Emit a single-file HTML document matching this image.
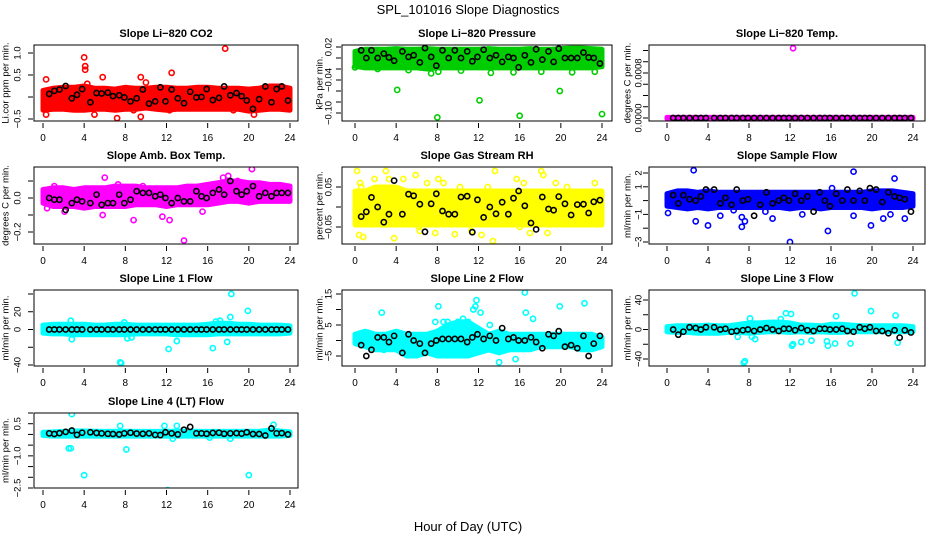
<!DOCTYPE html>
<html><head><meta charset="utf-8"><style>
html,body{margin:0;padding:0;background:#fff;}
svg{display:block;font-family:"Liberation Sans",sans-serif;}
</style></head><body>
<svg id="chart" width="936" height="540" viewBox="0 0 936 540">
<text x="468" y="14" text-anchor="middle" font-size="13">SPL_101016  Slope Diagnostics</text>
<text x="468" y="531" text-anchor="middle" font-size="13">Hour of Day (UTC)</text>
</svg>
<script>
const hours = [0,1,2,3,4,5,6,7,8,9,10,11,12,13,14,15,16,17,18,19,20,21,22,23,24];
const xTicks = [0,4,8,12,16,20,24];
const blackT = [0.6,1.1,1.6,2.2,2.8,3.3,3.8,4.6,5.2,5.7,6.3,6.8,7.4,7.9,8.5,9.1,9.7,10.3,10.9,11.4,11.9,12.5,13.1,13.7,14.3,14.9,15.4,15.9,16.5,17.1,17.6,18.2,18.8,19.3,19.8,20.4,21.0,21.6,22.2,22.7,23.2,23.8];

// Panel 1 CO2
const co2Hi = [0.15,0.2,0.22,0.22,0.25,0.2,0.2,0.18,0.22,0.2,0.2,0.22,0.22,0.2,0.2,0.22,0.22,0.2,0.2,0.2,0.18,0.2,0.25,0.25,0.2];
const co2Lo = [-0.3,-0.28,-0.28,-0.3,-0.3,-0.28,-0.28,-0.3,-0.28,-0.28,-0.25,-0.28,-0.3,-0.28,-0.28,-0.28,-0.28,-0.28,-0.28,-0.28,-0.32,-0.3,-0.28,-0.28,-0.3];
const co2OutT = [0.3,0.3,2.6,4.0,4.1,4.1,4.3,5.0,5.8,7.2,9.5,9.5,10.0,12.5,12.3,17.7,20.5,18.5,8.8];
const co2OutV = [0.4,-0.4,-0.27,0.9,0.7,0.62,0.3,-0.4,0.45,-0.48,0.45,-0.45,0.33,0.55,-0.3,1.1,-0.4,-0.3,-0.3];
const co2Black = [0.07,0.14,0.17,0.25,-0.03,0.05,0.18,-0.12,0.09,0.08,0.1,0.02,0.04,-0.01,-0.1,-0.03,0.17,-0.15,-0.1,0.22,-0.1,0.17,-0.03,-0.14,0.12,-0.01,0.0,0.18,-0.07,-0.02,0.24,0.04,0.09,0.02,-0.08,-0.27,-0.05,0.24,-0.12,0.18,0.24,-0.08];
// Panel 2 Pressure
const prHi = [0.012,0.016,0.016,0.016,0.017,0.016,0.016,0.017,0.016,0.016,0.016,0.016,0.016,0.017,0.016,0.016,0.016,0.017,0.016,0.016,0.017,0.018,0.018,0.017,0.016];
const prLo = [-0.015,-0.018,-0.018,-0.018,-0.018,-0.018,-0.018,-0.02,-0.018,-0.018,-0.018,-0.018,-0.018,-0.018,-0.018,-0.018,-0.018,-0.018,-0.018,-0.018,-0.018,-0.018,-0.018,-0.018,-0.016];
const prOutT = [0,2.2,4.1,4.7,5.2,7.4,8.0,8.1,10.3,12.1,13.2,15.4,16.0,18.1,19.9,21.1,23.3,24.0];
const prOutV = [-0.017,-0.02,-0.058,-0.016,-0.022,-0.028,-0.108,-0.025,-0.023,-0.077,-0.027,-0.026,-0.105,-0.025,-0.060,-0.026,-0.025,-0.102];
const prBlack = [0.014,0.0,0.014,0.0,0.008,0.001,-0.005,0.012,0.002,0.005,-0.008,0.018,0.002,-0.014,0.014,0.0,0.014,0.0,0.012,-0.006,0.002,0.015,0.0,0.005,-0.007,0.002,0.0,-0.017,0.005,-0.008,0.016,-0.003,0.012,-0.007,0.017,0.0,0.0,0.0,0.01,0.001,0.0,-0.01];
// Panel 3 Temp
const tHi = [0.00001,0.00001,0.00001,0.00001,0.00001,0.00001,0.00001,0.00001,0.00001,0.00001,0.00001,0.00001,0.00001,0.00001,0.00001,0.00001,0.00001,0.00001,0.00001,0.00001,0.00001,0.00001,0.00001,0.00001,0.00001];
const tLo = [-0.00001,-0.00001,-0.00001,-0.00001,-0.00001,-0.00001,-0.00001,-0.00001,-0.00001,-0.00001,-0.00001,-0.00001,-0.00001,-0.00001,-0.00001,-0.00001,-0.00001,-0.00001,-0.00001,-0.00001,-0.00001,-0.00001,-0.00001,-0.00001,-0.00001];
const tOutT = [12.3];
const tOutV = [0.00124];
const tBlack = [0,0,0,0,0,0,0,0,0,0,0,0,0,0,0,0,0,0,0,0,0,0,0,0,0,0,0,0,0,0,0,0,0,0,0,0,0,0,0,0,0,0];
// Panel 4 Amb box
const abHi = [0.05,0.06,0.06,0.05,0.06,0.06,0.06,0.07,0.07,0.07,0.06,0.06,0.06,0.06,0.07,0.07,0.08,0.09,0.1,0.1,0.09,0.09,0.08,0.08,0.07];
const abLo = [-0.03,-0.05,-0.05,-0.05,-0.06,-0.05,-0.05,-0.05,-0.05,-0.04,-0.04,-0.04,-0.05,-0.04,-0.04,-0.04,-0.04,-0.03,-0.02,-0.02,-0.03,-0.02,-0.02,-0.02,-0.02];
const abOutT = [0.4,1.1,5.8,6.0,7.3,8.8,11.6,12.3,13.7,15.5,17.5,18.0,20.3,18.9,9.7,2.1];
const abOutV = [-0.06,0.07,-0.1,0.12,0.08,-0.13,-0.11,-0.13,-0.25,-0.08,0.12,0.13,0.17,0.1,0.07,-0.08];
const abBlack = [0.0,-0.01,-0.01,-0.07,-0.03,-0.01,-0.02,-0.03,0.02,-0.04,-0.03,-0.03,0.02,-0.03,-0.01,0.04,0.03,0.03,0.01,0.02,0.0,-0.03,0.0,-0.02,-0.02,0.04,0.01,0.0,0.03,0.05,0.02,0.1,0.04,0.02,0.04,0.07,0.01,0.03,0.01,0.03,0.03,0.03];
// Panel 5 RH
const rhHi = [0.04,0.04,0.05,0.05,0.05,0.04,0.04,0.04,0.04,0.04,0.04,0.04,0.04,0.04,0.04,0.04,0.04,0.04,0.04,0.04,0.04,0.04,0.04,0.04,0.04];
const rhLo = [-0.045,-0.045,-0.045,-0.045,-0.045,-0.045,-0.045,-0.045,-0.045,-0.045,-0.045,-0.045,-0.045,-0.045,-0.045,-0.045,-0.045,-0.045,-0.045,-0.045,-0.045,-0.045,-0.045,-0.045,-0.045];
const rhOutT = [0.2,0.4,0.5,0.8,1.9,3.0,3.3,3.8,4.7,5.9,6.3,7.0,7.8,8.6,9.7,10.2,11.3,12.3,12.9,13.4,13.6,15.7,16.0,17.0,18.1,18.3,18.7,19.5,20.6,22.0,23.3,0.6,6.2,8.1,14.4,16.4];
const rhOutV = [0.09,-0.07,0.06,-0.075,0.07,0.09,0.07,-0.078,0.07,0.08,-0.06,0.06,-0.065,0.06,-0.068,0.05,-0.06,-0.07,0.05,-0.085,0.09,0.07,-0.05,-0.065,0.09,0.08,-0.065,0.06,0.05,-0.04,0.06,0.05,-0.05,0.07,-0.04,0.06];
const rhBlack = [-0.024,-0.012,0.024,0.0,-0.038,-0.018,0.066,-0.018,0.032,0.028,0.007,-0.062,0.008,0.033,-0.010,-0.018,-0.018,0.025,0.027,-0.063,0.018,-0.026,0.0,-0.017,0.012,-0.018,0.022,0.04,0.003,-0.04,-0.056,0.025,-0.005,-0.008,0.026,0.008,-0.02,0.006,0.007,-0.015,0.013,0.017];
// Panel 6 Sample flow
const sfHi = [0.5,0.7,0.7,0.6,0.7,0.6,0.6,0.6,0.6,0.6,0.6,0.6,0.6,0.6,0.6,0.6,0.6,0.6,0.6,0.6,0.7,0.7,0.7,0.6,0.5];
const sfLo = [-0.4,-0.5,-0.6,-0.5,-0.6,-0.5,-0.5,-0.5,-0.5,-0.5,-0.5,-0.5,-0.6,-0.5,-0.5,-0.6,-0.5,-0.5,-0.5,-0.5,-0.6,-0.5,-0.5,-0.5,-0.4];
const sfOutT = [0.1,2.6,2.8,4.0,5.2,7.3,7.3,7.6,10.3,12.0,13.2,15.7,16.1,18.2,18.2,19.9,21.1,21.8,22.2,23.2,9.6,6.5];
const sfOutV = [-0.9,2.2,-1.5,-1.8,-1.1,-1.2,-1.9,-1.5,-1.3,-3.0,-1.0,-2.2,0.9,2.1,-1.1,-1.8,-1.3,-1.0,1.6,-1.3,-0.8,-0.7];
const sfBlack = [0.4,-0.2,0.4,0.1,0.0,0.3,0.8,0.8,-0.2,0.2,-0.3,0.8,0.0,0.1,-1.1,-0.3,0.6,-0.2,0.0,0.2,0.0,0.5,-0.0,0.3,-0.8,0.6,0.0,-0.4,0.5,0.0,0.8,0.0,0.7,0.0,0.9,0.8,-0.1,0.6,0.3,0.2,0.1,-0.8];
// Panel 7 Line 1
const l1Hi = [5,6,6,6,6,5,5,6,6,5,5,5,5,5,5,5,6,7,7,6,6,5,5,5,4];
const l1Lo = [-4,-5,-5,-6,-6,-6,-6,-6,-6,-5,-5,-5,-5,-6,-6,-6,-6,-5,-5,-5,-5,-5,-5,-5,-4];
const l1OutT = [2.7,2.8,7.5,7.6,7.9,8.2,8.6,12.2,13.0,16.5,17.9,18.2,18.3,19.9,16.8,17.2,23.9];
const l1OutV = [10,-11,-37,-38,8,-10,-9,-22,-13,-21,-14,14,40,21,9,10,-3];
const l1Black = [0,0,0,0,0,0,0,0,0,0,0,0,0,0,0,0,0,0,0,0,0,0,0,0,0,0,0,0,0,0,0,0,0,0,0,0,0,0,0,0,0,0];
// Panel 8 Line 2
const l2Hi = [2,3,2,2,3,2,2,2,3,5,6,6,4,2,3,2,2,2,2,2,2,2,2,2,1];
const l2Lo = [-1,-2,-3,-3,-3,-5,-5,-4,-5,-5,-5,-5,-4,-3,-4,-3,-3,-3,-2,-2,-2,-2,-3,-3,-2];
const l2OutT = [2.6,7.8,8.1,8.6,9.0,9.5,10.0,10.5,11.0,11.5,11.7,11.8,12.2,13.1,14.0,15.6,16.5,16.6,17.3,19.9,22.3,2.8,5.3,6.3];
const l2OutV = [9,6,11,6,6,5,6,7,6,10,11,13,9,5,-7,-6,15.5,9,7,11,12,-3,-3,-3];
const l2Black = [-1.5,-5,-3,1,1,-0.5,1.5,-4,2,0,-1,-4,-1,0,0.5,0.5,0.5,0.5,-0.5,1,2,0.5,1.5,0,4,0.5,1,0,0,1,-0.5,-2.5,2,1.5,3,-2,-1.5,-2.5,1.5,-5,-1,1.5];
// Panel 9 Line 3
const l3Hi = [4,5,5,5,6,5,5,7,9,9,10,10,9,6,6,5,7,7,6,5,5,5,5,5,4];
const l3Lo = [-3,-4,-4,-5,-5,-5,-4,-4,-5,-4,-3,-3,-4,-3,-4,-3,-4,-4,-3,-3,-3,-3,-3,-3,-3];
const l3OutT = [7.5,7.6,8.1,8.3,8.6,11.6,12.1,12.2,12.3,13.1,14.1,15.6,15.7,16.4,16.5,17.9,18.3,19.9,22.3,22.5,6.9,11.1];
const l3OutV = [-45,-43,15,-10,-13,22,21,-22,-20,-17,-15,-16,-22,-19,18,-19,49,25,19,-18,-10,14];
const l3Black = [0,-7,-3,3,2,0,3,3,0,1,-3,-2,-1,0,-2,0,2,0,-2,1,1,-1,2,-1,-2,1,1,0,0,1,-2,-3,3,1,3,-2,-2,-5,-1,-11,-1,-4];
// Panel 10 Line 4
const l4Hi = [0.1,0.12,0.14,0.16,0.16,0.15,0.14,0.15,0.15,0.14,0.14,0.14,0.15,0.15,0.16,0.14,0.14,0.14,0.14,0.14,0.15,0.14,0.2,0.16,0.12];
const l4Lo = [-0.05,-0.08,-0.08,-0.08,-0.08,-0.08,-0.08,-0.08,-0.08,-0.08,-0.08,-0.08,-0.08,-0.08,-0.08,-0.08,-0.08,-0.08,-0.08,-0.08,-0.08,-0.08,-0.08,-0.08,-0.05];
const l4OutT = [2.8,2.5,2.7,4.0,8.1,7.5,12.1,11.8,13.0,20.0,22.4,12.6,18.2,16.2];
const l4OutV = [0.95,-0.65,-0.65,-1.9,-0.7,0.4,-2.6,0.4,0.4,-1.9,0.45,-0.2,-0.2,-0.15];
const l4Black = [0.05,0.02,0.06,0.12,0.18,-0.02,0.08,0.1,0.07,0.05,0.03,0.02,0.0,0.05,0.08,0.04,0.03,0.05,-0.02,-0.03,0.1,0.05,0.0,0.22,0.35,0.05,0.05,0.03,0.07,0.08,0.03,0.05,0.06,0.04,0.1,0.02,0.02,-0.05,0.28,0.05,0.06,0.0];

const cols = [{l:34,r:298,x0:43,x24:290,yl:6,tl:18},{l:342,r:612,x0:355,x24:602,yl:320,tl:329},{l:649,r:925,x0:667,x24:913,yl:628,tl:639}];
const rows = [{t:45,b:121},{t:167,b:244},{t:290,b:366},{t:413,b:488}];

const panels = [
 {name:'co2',title:'Slope Li\u2212820 CO2',yl:'Li.cor ppm per min.',c:0,r:0,col:'#ff0000',ref:[1.0,53,-0.5,119],ticks:[1.0,0.5,0,-0.5],labs:['1.0','0.5','','\u22120.5'],hi:co2Hi,lo:co2Lo,ot:co2OutT,ov:co2OutV,bk:co2Black},
 {name:'pressure',title:'Slope Li\u2212820 Pressure',yl:'kPa per min.',c:1,r:0,col:'#00cd00',ref:[0.02,47,-0.10,113],ticks:[0.02,0,-0.02,-0.04,-0.06,-0.08,-0.10],labs:['0.02','','','\u22120.04','','','\u22120.10'],hi:prHi,lo:prLo,ot:prOutT,ov:prOutV,bk:prBlack},
 {name:'temp',title:'Slope Li\u2212820 Temp.',yl:'degrees C per min.',c:2,r:0,col:'#ff00ff',ref:[0,118,0.0008,73],ticks:[0,0.0002,0.0004,0.0006,0.0008,0.001,0.0012],labs:['0.0000','','','','0.0008','',''],hi:tHi,lo:tLo,ot:tOutT,ov:tOutV,bk:tBlack},
 {name:'amb-box-temp',title:'Slope Amb. Box Temp.',yl:'degrees C per min.',c:0,r:1,col:'#ff00ff',ref:[0,198,-0.2,232],ticks:[0.1,0,-0.1,-0.2],labs:['','0.0','','\u22120.2'],hi:abHi,lo:abLo,ot:abOutT,ov:abOutV,bk:abBlack},
 {name:'gas-rh',title:'Slope Gas Stream RH',yl:'percent per min.',c:1,r:1,col:'#ffff00',ref:[0.05,187,-0.05,227],ticks:[0.05,0,-0.05],labs:['0.05','','\u22120.05'],hi:rhHi,lo:rhLo,ot:rhOutT,ov:rhOutV,bk:rhBlack},
 {name:'sample-flow',title:'Slope Sample Flow',yl:'ml/min per min.',c:2,r:1,col:'#0000ff',ref:[2,173,-3,242],ticks:[2,1,0,-1,-2,-3],labs:['2','1','','\u22121','','\u22123'],hi:sfHi,lo:sfLo,ot:sfOutT,ov:sfOutV,bk:sfBlack},
 {name:'line1-flow',title:'Slope Line 1 Flow',yl:'ml/min per min.',c:0,r:2,col:'#00ffff',ref:[40,294,-40,365],ticks:[40,20,0,-20,-40],labs:['','20','0','','\u221240'],hi:l1Hi,lo:l1Lo,ot:l1OutT,ov:l1OutV,bk:l1Black},
 {name:'line2-flow',title:'Slope Line 2 Flow',yl:'ml/min per min.',c:1,r:2,col:'#00ffff',ref:[15,294,-5,356],ticks:[15,10,5,0,-5],labs:['15','','5','','\u22125'],hi:l2Hi,lo:l2Lo,ot:l2OutT,ov:l2OutV,bk:l2Black},
 {name:'line3-flow',title:'Slope Line 3 Flow',yl:'ml/min per min.',c:2,r:2,col:'#00ffff',ref:[40,300,-40,359],ticks:[40,20,0,-20,-40],labs:['40','','0','','\u221240'],hi:l3Hi,lo:l3Lo,ot:l3OutT,ov:l3OutV,bk:l3Black},
 {name:'line4-flow',title:'Slope Line 4 (LT) Flow',yl:'ml/min per min.',c:0,r:3,col:'#00ffff',ref:[1.0,413,-2.5,488],ticks:[1.0,0.5,0,-0.5,-1.0,-1.5,-2.0,-2.5],labs:['','0.5','','','\u22121.0','','','\u22122.5'],hi:l4Hi,lo:l4Lo,ot:l4OutT,ov:l4OutV,bk:l4Black}
];

const NS='http://www.w3.org/2000/svg';
const svg=document.getElementById('chart');
function mk(tag,attrs,parent){const e=document.createElementNS(NS,tag);for(const k in attrs)e.setAttribute(k,attrs[k]);parent.appendChild(e);return e;}

panels.forEach(p=>{
  const C=cols[p.c],R=rows[p.r];
  const g=mk('g',{},svg);
  
  
  const xs=h=>C.x0+(C.x24-C.x0)*h/24;
  const ys=v=>p.ref[1]+(v-p.ref[0])*(p.ref[3]-p.ref[1])/(p.ref[2]-p.ref[0]);
  const clip='clip-'+p.name;
  const cp=mk('clipPath',{id:clip},g);
  mk('rect',{x:C.l,y:R.t,width:C.r-C.l,height:R.b-R.t},cp);
  const data=mk('g',{'clip-path':'url(#'+clip+')'},g);
  let d='';
  hours.forEach((h,i)=>{d+=(i?'L':'M')+xs(h).toFixed(1)+','+ys(p.hi[i]).toFixed(1);});
  for(let i=hours.length-1;i>=0;i--)d+='L'+xs(hours[i]).toFixed(1)+','+ys(p.lo[i]).toFixed(1);
  const band=mk('path',{d:d+'Z',fill:p.col,stroke:p.col,'stroke-width':5,'stroke-linejoin':'round'},data);
  
  
  p.ot.forEach((t,i)=>{
    const c=mk('circle',{cx:xs(t),cy:ys(p.ov[i]),r:2.6,fill:'none',stroke:p.col,'stroke-width':1.6},data);
    
    
  });
  blackT.forEach((t,i)=>{
    const c=mk('circle',{cx:xs(t),cy:ys(p.bk[i]),r:2.6,fill:'none',stroke:'#000','stroke-width':1.6},data);
    
    
  });
  const box=mk('rect',{x:C.l,y:R.t,width:C.r-C.l,height:R.b-R.t,fill:'none',stroke:'#000','stroke-width':1},g);
  
  
  const tt=mk('text',{x:(C.l+C.r)/2,y:R.t-8,'text-anchor':'middle','font-size':11,'font-weight':'bold'},g);
  tt.textContent=p.title;
  
  
  xTicks.forEach(h=>{
    mk('line',{x1:xs(h),x2:xs(h),y1:R.b+2,y2:R.b+7,stroke:'#000'},g);
    const tl=mk('text',{x:xs(h),y:R.b+20,'text-anchor':'middle','font-size':10},g);
    tl.textContent=h;
    
    
  });
  p.ticks.forEach((v,i)=>{
    mk('line',{x1:C.l-6,x2:C.l-1,y1:ys(v),y2:ys(v),stroke:'#000'},g);
    if(p.labs[i]){
      const yl=mk('text',{x:0,y:0,'text-anchor':'middle','dominant-baseline':'central','font-size':9.5,transform:'translate('+C.tl+','+ys(v)+') rotate(-90)'},g);
      yl.textContent=p.labs[i];
      
      
    }
  });
  const ya=mk('text',{x:0,y:0,'text-anchor':'middle','dominant-baseline':'central','font-size':9.5,transform:'translate('+C.yl+','+((R.t+R.b)/2)+') rotate(-90)'},g);
  ya.textContent=p.yl;
  
  
});
</script>
</body></html>
